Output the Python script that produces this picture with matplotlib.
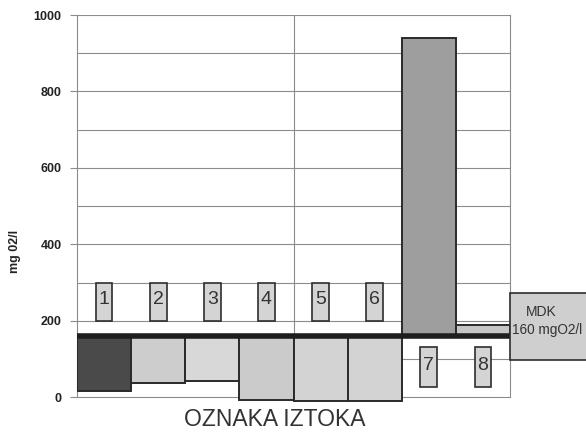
import matplotlib
matplotlib.use("Agg")
import matplotlib.pyplot as plt
from matplotlib.patches import Rectangle

# ---- data ----
labels = ["1", "2", "3", "4", "5", "6", "7", "8"]
values = [17, 38, 43, -8, -10, -10, 940, 190]
bar_colors = ["#4a4a4a", "#cdcdcd", "#d8d8d8", "#cbcbcb", "#d3d3d3", "#d3d3d3", "#9e9e9e", "#c6c6c6"]
mdk = 160
mdk_text = "160 mgO2/l"
y_ticks = [0, 200, 400, 600, 800, 1000]
x_title = "OZNAKA IZTOKA"
y_title = "mg 02/l"

SANS = ["Liberation Sans", "DejaVu Sans"]

fig = plt.figure(figsize=(5.86, 4.37), dpi=100)
ax = fig.add_axes([77 / 586, 1 - 402 / 437, (510 - 77) / 586, (402 - 15) / 437])

n = len(values)
xs = list(range(n))
heights = [v - mdk for v in values]
ax.bar(xs, heights, bottom=mdk, width=1.0, align="edge",
       color=bar_colors, edgecolor="#2a2a2a", linewidth=1.4, zorder=3)

# MDK line
ax.axhline(mdk, color="#1e1e1e", linewidth=4, zorder=4)

# grid
for y in range(0, 1001, 100):
    ax.axhline(y, color="#8c8c8c", linewidth=0.8, zorder=1)
ax.axvline(n / 2, color="#8c8c8c", linewidth=0.8, zorder=1)

ax.set_xlim(0, n)
ax.set_ylim(-12, 1000)
ax.set_xticks([])
ax.set_yticks(y_ticks)
ax.set_yticklabels([str(t) for t in y_ticks], fontfamily=SANS, fontweight="bold", fontsize=9, color="#222222")
ax.tick_params(axis="y", length=5, width=0.8, color="#8c8c8c", pad=6)

for s in ["top", "bottom"]:
    ax.spines[s].set_visible(False)
for s in ["left", "right"]:
    ax.spines[s].set_color("#8c8c8c")
    ax.spines[s].set_linewidth(0.8)
    ax.spines[s].set_bounds(0, 1000)

# number label boxes
bw = 0.31
for i, (lab, v) in enumerate(zip(labels, values)):
    if v < mdk:
        y0, h = 200, 100
    else:
        y0, h = 28, 103
    cx = i + 0.5
    ax.add_patch(Rectangle((cx - bw / 2, y0), bw, h, facecolor="#d4d4d4",
                           edgecolor="#2e2e2e", linewidth=1.2, zorder=5))
    ax.text(cx, y0 + h * 0.55, lab, ha="center", va="center", fontsize=14,
            fontfamily=SANS, color="#333333", zorder=6)

# MDK box at right (runs off the figure edge)
ax.add_patch(Rectangle((n, 98), 3, 175, facecolor="#cfcfcf", edgecolor="#2e2e2e",
                       linewidth=1.2, clip_on=False, zorder=5))
ax.text(n + 0.3, 224, "MDK", ha="left", va="center", fontsize=10,
        fontfamily=SANS, color="#333333", clip_on=False, zorder=6)
ax.text(n + 0.03, 176, mdk_text, ha="left", va="center", fontsize=9.8,
        fontfamily=SANS, color="#333333", clip_on=False, zorder=6)

# titles
fig.text(274.5 / 586, 1 - 420 / 437, x_title, ha="center", va="center",
         fontsize=16.5, fontfamily=SANS, color="#333333")
fig.text(15 / 586, 1 - 251 / 437, y_title, ha="center", va="center", rotation=90,
         fontsize=9, fontweight="bold", fontfamily=SANS, color="#222222")

fig.savefig("out.png", dpi=100)
